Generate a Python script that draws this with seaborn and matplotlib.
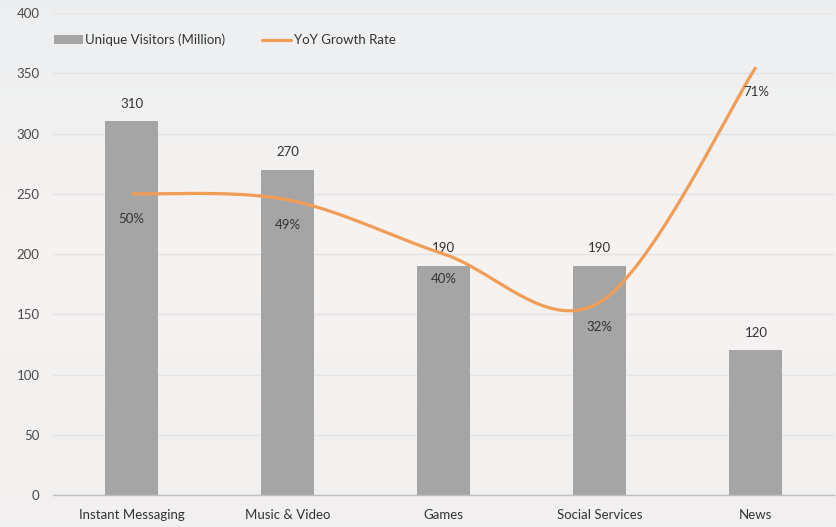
import numpy as np
import pandas as pd
import matplotlib
matplotlib.use("Agg")
import matplotlib.pyplot as plt
from matplotlib.patches import Patch
from matplotlib.lines import Line2D
import seaborn as sns

categories = ["Instant Messaging", "Music & Video", "Games", "Social Services", "News"]
visitors = [310, 270, 190, 190, 120]
growth = [50, 49, 40, 32, 71]
growth_labels = ["50%", "49%", "40%", "32%", "71%"]
y_ticks = [0, 50, 100, 150, 200, 250, 300, 350, 400]

BAR_COLOR = "#a5a5a5"
LINE_COLOR = "#f19d56"
TEXT_COLOR = "#333333"
TICK_COLOR = "#4a4a4a"

sns.set_theme(style="white")
plt.rcParams["font.family"] = ["Lato", "DejaVu Sans"]


def smooth_curve(values, steps=60):
    """Bezier smoothing through the points (Catmull-Rom style control points)."""
    pts = np.column_stack([np.arange(len(values), dtype=float), np.asarray(values, float)])
    padded = np.vstack([pts[0], pts, pts[-1]])
    out = []
    t = np.linspace(0, 1, steps)[:, None]
    for i in range(len(pts) - 1):
        p0, p1 = padded[i + 1], padded[i + 2]
        c1 = p0 + (padded[i + 2] - padded[i]) / 6.0
        c2 = p1 - (padded[i + 3] - padded[i + 1]) / 6.0
        seg = ((1 - t) ** 3) * p0 + 3 * ((1 - t) ** 2) * t * c1 + 3 * (1 - t) * t ** 2 * c2 + t ** 3 * p1
        out.append(seg if i == 0 else seg[1:])
    return np.vstack(out)


fig = plt.figure(figsize=(8.37, 5.27), dpi=100)

# soft washed-out backdrop: cool grey at the top, warmer lower down
bg = fig.add_axes([0, 0, 1, 1], zorder=-10)
top = np.array([0.925, 0.935, 0.945])
mid = np.array([0.965, 0.952, 0.945])
bot = np.array([0.945, 0.940, 0.938])
rows = []
for g in np.linspace(0, 1, 256):
    if g < 0.45:
        rows.append(top + (mid - top) * (g / 0.45))
    else:
        rows.append(mid + (bot - mid) * ((g - 0.45) / 0.55))
rows = np.array(rows)[:, None, :].repeat(2, axis=1)
bg.imshow(rows, aspect="auto", extent=[0, 1, 0, 1], origin="upper")
bg.set_axis_off()

ax = fig.add_axes([0.0639, 0.0607, 0.9325, 0.9146])
ax.patch.set_alpha(0)

df = pd.DataFrame({"category": categories, "visitors": visitors})
sns.barplot(data=df, x="category", y="visitors", color=BAR_COLOR, width=0.34,
            saturation=1, edgecolor="none", linewidth=0, ax=ax, zorder=2)

ax.set_ylim(0, 400)
ax.set_xlim(-0.5, len(categories) - 0.5)
ax.set_yticks(y_ticks)
ax.set_xlabel("")
ax.set_ylabel("")
ax.grid(axis="y", color="#e3e3e3", linewidth=1, zorder=0)
ax.set_axisbelow(True)
for side in ["left", "right", "top"]:
    ax.spines[side].set_visible(False)
ax.spines["bottom"].set_color("#bfbfbf")
ax.spines["bottom"].set_linewidth(1)
ax.tick_params(axis="both", length=0, labelsize=9.5, labelcolor=TICK_COLOR)
ax.tick_params(axis="x", pad=10, labelcolor=TEXT_COLOR)
ax.tick_params(axis="y", pad=10)

for i, v in enumerate(visitors):
    ax.annotate(f"{v}", (i, v), xytext=(0, 8.5), textcoords="offset points",
                ha="center", va="bottom", fontsize=9.5, color=TEXT_COLOR)

# growth rate on a hidden secondary axis
ax2 = ax.twinx()
ax2.set_ylim(0, 80)
ax2.set_axis_off()
curve = smooth_curve(growth)
curve_df = pd.DataFrame({"x": curve[:, 0], "y": curve[:, 1]})
sns.lineplot(data=curve_df, x="x", y="y", color=LINE_COLOR, linewidth=2.3,
             sort=False, ax=ax2, zorder=3, solid_capstyle="butt")
for i, (v, lab) in enumerate(zip(growth, growth_labels)):
    ax2.annotate(lab, (i, v), xytext=(0, -18), textcoords="offset points",
                 ha="center", va="center", fontsize=9.5, color=TEXT_COLOR)

handles = [Patch(facecolor=BAR_COLOR, edgecolor="none", label="Unique Visitors (Million)"),
           Line2D([0], [0], color=LINE_COLOR, linewidth=2.3, label="YoY Growth Rate")]
ax.legend(handles=handles, loc="center left", bbox_to_anchor=(-0.015, 0.944), ncol=2,
          frameon=False, fontsize=9.5, handlelength=2.2, handleheight=0.6,
          handletextpad=0.2, columnspacing=2.8, labelcolor=TEXT_COLOR)

fig.savefig("out.png", dpi=100)
